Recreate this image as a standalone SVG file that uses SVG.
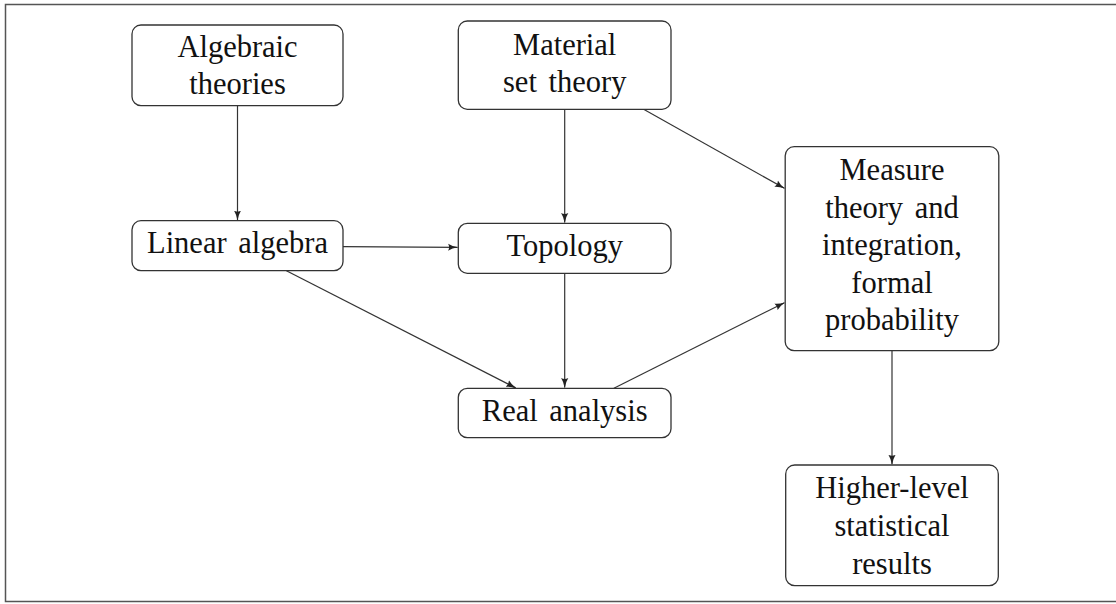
<svg xmlns="http://www.w3.org/2000/svg" width="1116" height="604" viewBox="0 0 1116 604">
<defs>
<style>
.box{fill:#fff;stroke:#333;stroke-width:1.3}
.t{font-family:"Liberation Serif","Times New Roman",serif;font-size:30.5px;fill:#111;text-anchor:middle;word-spacing:4px}
.e{fill:none;stroke:#333;stroke-width:1.2;marker-end:url(#ah)}
</style>
<marker id="ah" viewBox="0 0 10 8" refX="9.5" refY="4" markerWidth="10" markerHeight="8" markerUnits="userSpaceOnUse" orient="auto">
<path d="M0,0.4 Q4,3 10,4 Q4,5 0,7.6 Q2,4 0,0.4 Z" fill="#222"/>
</marker>
</defs>
<rect width="1116" height="604" fill="#fff"/>
<path d="M1116,4.5 H5.5 V601.5 H1116" fill="none" stroke="#555" stroke-width="1.5"/>
<g id="connectors">
<line class="e" x1="237.5" y1="105.7" x2="237.5" y2="220"/>
<line class="e" x1="564.7" y1="109.3" x2="564.7" y2="222.6"/>
<line class="e" x1="643.6" y1="109.3" x2="784.4" y2="188.3"/>
<line class="e" x1="343" y1="246.7" x2="457.6" y2="247.3"/>
<line class="e" x1="286.4" y1="270.7" x2="515.7" y2="387.9"/>
<line class="e" x1="564.7" y1="273.3" x2="564.7" y2="387.6"/>
<line class="e" x1="613.9" y1="388.3" x2="784.4" y2="302.7"/>
<line class="e" x1="892" y1="350.7" x2="892" y2="464.3"/>
</g>
<g id="algebraic">
<rect class="box" x="132" y="25" width="211" height="80.7" rx="9"/>
<text class="t" x="237.5" y="56.5">Algebraic</text>
<text class="t" x="237.5" y="94">theories</text>
</g>
<g id="material">
<rect class="box" x="458.3" y="21" width="212.7" height="88.3" rx="9"/>
<text class="t" x="564.7" y="54.5">Material</text>
<text class="t" x="564.7" y="92.3">set theory</text>
</g>
<g id="linear">
<rect class="box" x="132" y="220.7" width="211" height="50" rx="9"/>
<text class="t" x="237.5" y="253.3">Linear algebra</text>
</g>
<g id="topology">
<rect class="box" x="458.3" y="223.3" width="212.7" height="50" rx="9"/>
<text class="t" x="564.7" y="256">Topology</text>
</g>
<g id="real">
<rect class="box" x="458.3" y="388.3" width="212.7" height="49.4" rx="9"/>
<text class="t" x="564.7" y="420.5">Real analysis</text>
</g>
<g id="measure">
<rect class="box" x="785.2" y="146.7" width="213.6" height="204" rx="9"/>
<text class="t" x="892" y="180">Measure</text>
<text class="t" x="892" y="217.5">theory and</text>
<text class="t" x="892" y="255">integration,</text>
<text class="t" x="892" y="292.5">formal</text>
<text class="t" x="892" y="330">probability</text>
</g>
<g id="higher">
<rect class="box" x="785.7" y="465" width="212.6" height="120.7" rx="9"/>
<text class="t" x="892" y="498.3">Higher-level</text>
<text class="t" x="892" y="536">statistical</text>
<text class="t" x="892" y="573.5">results</text>
</g>
</svg>
